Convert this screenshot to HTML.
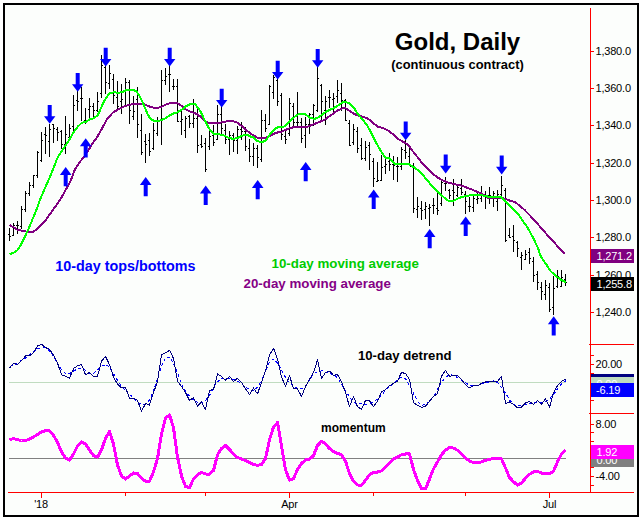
<!DOCTYPE html>
<html><head><meta charset="utf-8"><title>Gold, Daily</title>
<style>html,body{margin:0;padding:0;background:#fff;}body{width:642px;height:520px;overflow:hidden;}svg{display:block;}text{font-family:"Liberation Sans",sans-serif;}.ax{font-size:11px;fill:#000;letter-spacing:-0.2px;}.bx{font-size:11px;fill:#fff;letter-spacing:-0.2px;}.b{font-weight:bold;}</style></head><body>
<svg width="642" height="520" viewBox="0 0 642 520">
<rect x="0" y="0" width="642" height="520" fill="#ffffff"/>
<rect x="4" y="4" width="634" height="512" fill="#fcfefc" stroke="#000" stroke-width="2" shape-rendering="crispEdges"/>
<g shape-rendering="crispEdges">
<rect x="9" y="382" width="557" height="1" fill="#c0dcc0"/>
<rect x="9" y="458" width="557" height="1" fill="#808080"/>
</g>
<g fill="#000" shape-rendering="crispEdges">
<rect x="9" y="228" width="1" height="13"/>
<rect x="8" y="234" width="1" height="1"/>
<rect x="10" y="236" width="1" height="1"/>
<rect x="13" y="223" width="1" height="13"/>
<rect x="12" y="235" width="1" height="1"/>
<rect x="14" y="225" width="1" height="1"/>
<rect x="17" y="221" width="1" height="13"/>
<rect x="16" y="225" width="1" height="1"/>
<rect x="18" y="225" width="1" height="1"/>
<rect x="21" y="206" width="1" height="23"/>
<rect x="20" y="226" width="1" height="1"/>
<rect x="22" y="209" width="1" height="1"/>
<rect x="25" y="191" width="1" height="21"/>
<rect x="24" y="209" width="1" height="1"/>
<rect x="26" y="193" width="1" height="1"/>
<rect x="29" y="182" width="1" height="14"/>
<rect x="28" y="193" width="1" height="1"/>
<rect x="30" y="185" width="1" height="1"/>
<rect x="33" y="175" width="1" height="13"/>
<rect x="32" y="185" width="1" height="1"/>
<rect x="34" y="175" width="1" height="1"/>
<rect x="37" y="151" width="1" height="27"/>
<rect x="36" y="175" width="1" height="1"/>
<rect x="38" y="152" width="1" height="1"/>
<rect x="41" y="132" width="1" height="30"/>
<rect x="40" y="160" width="1" height="1"/>
<rect x="42" y="140" width="1" height="1"/>
<rect x="45" y="127" width="1" height="27"/>
<rect x="44" y="134" width="1" height="1"/>
<rect x="46" y="135" width="1" height="1"/>
<rect x="49" y="124" width="1" height="33"/>
<rect x="48" y="141" width="1" height="1"/>
<rect x="50" y="129" width="1" height="1"/>
<rect x="53" y="124" width="1" height="19"/>
<rect x="52" y="124" width="1" height="1"/>
<rect x="54" y="128" width="1" height="1"/>
<rect x="57" y="127" width="1" height="14"/>
<rect x="56" y="129" width="1" height="1"/>
<rect x="58" y="132" width="1" height="1"/>
<rect x="61" y="130" width="1" height="19"/>
<rect x="60" y="131" width="1" height="1"/>
<rect x="62" y="144" width="1" height="1"/>
<rect x="65" y="116" width="1" height="38"/>
<rect x="64" y="144" width="1" height="1"/>
<rect x="66" y="134" width="1" height="1"/>
<rect x="69" y="124" width="1" height="15"/>
<rect x="68" y="137" width="1" height="1"/>
<rect x="70" y="128" width="1" height="1"/>
<rect x="73" y="95" width="1" height="36"/>
<rect x="72" y="126" width="1" height="1"/>
<rect x="74" y="105" width="1" height="1"/>
<rect x="77" y="91" width="1" height="20"/>
<rect x="76" y="100" width="1" height="1"/>
<rect x="78" y="101" width="1" height="1"/>
<rect x="81" y="87" width="1" height="34"/>
<rect x="80" y="98" width="1" height="1"/>
<rect x="82" y="98" width="1" height="1"/>
<rect x="85" y="108" width="1" height="16"/>
<rect x="84" y="120" width="1" height="1"/>
<rect x="86" y="120" width="1" height="1"/>
<rect x="89" y="98" width="1" height="20"/>
<rect x="88" y="109" width="1" height="1"/>
<rect x="90" y="106" width="1" height="1"/>
<rect x="93" y="103" width="1" height="14"/>
<rect x="92" y="106" width="1" height="1"/>
<rect x="94" y="110" width="1" height="1"/>
<rect x="97" y="92" width="1" height="20"/>
<rect x="96" y="110" width="1" height="1"/>
<rect x="98" y="101" width="1" height="1"/>
<rect x="101" y="55" width="1" height="43"/>
<rect x="100" y="93" width="1" height="1"/>
<rect x="102" y="65" width="1" height="1"/>
<rect x="105" y="65" width="1" height="29"/>
<rect x="104" y="67" width="1" height="1"/>
<rect x="106" y="82" width="1" height="1"/>
<rect x="109" y="65" width="1" height="24"/>
<rect x="108" y="83" width="1" height="1"/>
<rect x="110" y="73" width="1" height="1"/>
<rect x="113" y="74" width="1" height="30"/>
<rect x="112" y="79" width="1" height="1"/>
<rect x="114" y="95" width="1" height="1"/>
<rect x="117" y="81" width="1" height="28"/>
<rect x="116" y="97" width="1" height="1"/>
<rect x="118" y="106" width="1" height="1"/>
<rect x="121" y="84" width="1" height="30"/>
<rect x="120" y="101" width="1" height="1"/>
<rect x="122" y="99" width="1" height="1"/>
<rect x="125" y="78" width="1" height="27"/>
<rect x="124" y="90" width="1" height="1"/>
<rect x="126" y="82" width="1" height="1"/>
<rect x="129" y="80" width="1" height="44"/>
<rect x="128" y="82" width="1" height="1"/>
<rect x="130" y="110" width="1" height="1"/>
<rect x="133" y="96" width="1" height="24"/>
<rect x="132" y="116" width="1" height="1"/>
<rect x="134" y="111" width="1" height="1"/>
<rect x="137" y="87" width="1" height="51"/>
<rect x="136" y="99" width="1" height="1"/>
<rect x="138" y="124" width="1" height="1"/>
<rect x="141" y="114" width="1" height="41"/>
<rect x="140" y="130" width="1" height="1"/>
<rect x="142" y="152" width="1" height="1"/>
<rect x="145" y="134" width="1" height="29"/>
<rect x="144" y="141" width="1" height="1"/>
<rect x="146" y="144" width="1" height="1"/>
<rect x="149" y="133" width="1" height="23"/>
<rect x="148" y="140" width="1" height="1"/>
<rect x="150" y="151" width="1" height="1"/>
<rect x="153" y="123" width="1" height="27"/>
<rect x="152" y="148" width="1" height="1"/>
<rect x="154" y="130" width="1" height="1"/>
<rect x="157" y="117" width="1" height="19"/>
<rect x="156" y="133" width="1" height="1"/>
<rect x="158" y="120" width="1" height="1"/>
<rect x="161" y="70" width="1" height="75"/>
<rect x="160" y="120" width="1" height="1"/>
<rect x="162" y="80" width="1" height="1"/>
<rect x="165" y="68" width="1" height="17"/>
<rect x="164" y="80" width="1" height="1"/>
<rect x="166" y="76" width="1" height="1"/>
<rect x="169" y="65" width="1" height="27"/>
<rect x="168" y="74" width="1" height="1"/>
<rect x="170" y="74" width="1" height="1"/>
<rect x="173" y="79" width="1" height="11"/>
<rect x="172" y="86" width="1" height="1"/>
<rect x="174" y="86" width="1" height="1"/>
<rect x="177" y="79" width="1" height="43"/>
<rect x="176" y="86" width="1" height="1"/>
<rect x="178" y="121" width="1" height="1"/>
<rect x="181" y="111" width="1" height="24"/>
<rect x="180" y="121" width="1" height="1"/>
<rect x="182" y="119" width="1" height="1"/>
<rect x="185" y="116" width="1" height="22"/>
<rect x="184" y="130" width="1" height="1"/>
<rect x="186" y="118" width="1" height="1"/>
<rect x="189" y="115" width="1" height="13"/>
<rect x="188" y="116" width="1" height="1"/>
<rect x="190" y="123" width="1" height="1"/>
<rect x="193" y="99" width="1" height="29"/>
<rect x="192" y="123" width="1" height="1"/>
<rect x="194" y="118" width="1" height="1"/>
<rect x="197" y="108" width="1" height="45"/>
<rect x="196" y="118" width="1" height="1"/>
<rect x="198" y="145" width="1" height="1"/>
<rect x="201" y="135" width="1" height="13"/>
<rect x="200" y="144" width="1" height="1"/>
<rect x="202" y="146" width="1" height="1"/>
<rect x="205" y="138" width="1" height="34"/>
<rect x="204" y="143" width="1" height="1"/>
<rect x="206" y="169" width="1" height="1"/>
<rect x="209" y="130" width="1" height="20"/>
<rect x="208" y="146" width="1" height="1"/>
<rect x="210" y="136" width="1" height="1"/>
<rect x="213" y="125" width="1" height="21"/>
<rect x="212" y="135" width="1" height="1"/>
<rect x="214" y="142" width="1" height="1"/>
<rect x="217" y="105" width="1" height="35"/>
<rect x="216" y="139" width="1" height="1"/>
<rect x="218" y="114" width="1" height="1"/>
<rect x="221" y="106" width="1" height="28"/>
<rect x="220" y="114" width="1" height="1"/>
<rect x="222" y="128" width="1" height="1"/>
<rect x="225" y="124" width="1" height="20"/>
<rect x="224" y="130" width="1" height="1"/>
<rect x="226" y="139" width="1" height="1"/>
<rect x="229" y="131" width="1" height="24"/>
<rect x="228" y="139" width="1" height="1"/>
<rect x="230" y="135" width="1" height="1"/>
<rect x="233" y="133" width="1" height="19"/>
<rect x="232" y="135" width="1" height="1"/>
<rect x="234" y="140" width="1" height="1"/>
<rect x="237" y="126" width="1" height="28"/>
<rect x="236" y="140" width="1" height="1"/>
<rect x="238" y="129" width="1" height="1"/>
<rect x="241" y="122" width="1" height="18"/>
<rect x="240" y="129" width="1" height="1"/>
<rect x="242" y="131" width="1" height="1"/>
<rect x="245" y="127" width="1" height="24"/>
<rect x="244" y="131" width="1" height="1"/>
<rect x="246" y="146" width="1" height="1"/>
<rect x="249" y="139" width="1" height="23"/>
<rect x="248" y="148" width="1" height="1"/>
<rect x="250" y="156" width="1" height="1"/>
<rect x="253" y="143" width="1" height="23"/>
<rect x="252" y="156" width="1" height="1"/>
<rect x="254" y="148" width="1" height="1"/>
<rect x="257" y="145" width="1" height="23"/>
<rect x="256" y="148" width="1" height="1"/>
<rect x="258" y="157" width="1" height="1"/>
<rect x="261" y="110" width="1" height="52"/>
<rect x="260" y="159" width="1" height="1"/>
<rect x="262" y="120" width="1" height="1"/>
<rect x="265" y="114" width="1" height="18"/>
<rect x="264" y="120" width="1" height="1"/>
<rect x="266" y="128" width="1" height="1"/>
<rect x="269" y="85" width="1" height="40"/>
<rect x="268" y="124" width="1" height="1"/>
<rect x="270" y="86" width="1" height="1"/>
<rect x="273" y="75" width="1" height="24"/>
<rect x="272" y="92" width="1" height="1"/>
<rect x="274" y="77" width="1" height="1"/>
<rect x="277" y="78" width="1" height="28"/>
<rect x="276" y="80" width="1" height="1"/>
<rect x="278" y="101" width="1" height="1"/>
<rect x="281" y="93" width="1" height="47"/>
<rect x="280" y="95" width="1" height="1"/>
<rect x="282" y="134" width="1" height="1"/>
<rect x="285" y="131" width="1" height="13"/>
<rect x="284" y="136" width="1" height="1"/>
<rect x="286" y="139" width="1" height="1"/>
<rect x="289" y="98" width="1" height="38"/>
<rect x="288" y="133" width="1" height="1"/>
<rect x="290" y="103" width="1" height="1"/>
<rect x="293" y="103" width="1" height="24"/>
<rect x="292" y="106" width="1" height="1"/>
<rect x="294" y="122" width="1" height="1"/>
<rect x="297" y="92" width="1" height="34"/>
<rect x="296" y="122" width="1" height="1"/>
<rect x="298" y="122" width="1" height="1"/>
<rect x="301" y="118" width="1" height="25"/>
<rect x="300" y="122" width="1" height="1"/>
<rect x="302" y="138" width="1" height="1"/>
<rect x="305" y="117" width="1" height="31"/>
<rect x="304" y="135" width="1" height="1"/>
<rect x="306" y="124" width="1" height="1"/>
<rect x="309" y="113" width="1" height="21"/>
<rect x="308" y="124" width="1" height="1"/>
<rect x="310" y="114" width="1" height="1"/>
<rect x="313" y="104" width="1" height="22"/>
<rect x="312" y="114" width="1" height="1"/>
<rect x="314" y="105" width="1" height="1"/>
<rect x="317" y="67" width="1" height="45"/>
<rect x="316" y="110" width="1" height="1"/>
<rect x="318" y="78" width="1" height="1"/>
<rect x="321" y="84" width="1" height="36"/>
<rect x="320" y="85" width="1" height="1"/>
<rect x="322" y="101" width="1" height="1"/>
<rect x="325" y="96" width="1" height="29"/>
<rect x="324" y="110" width="1" height="1"/>
<rect x="326" y="101" width="1" height="1"/>
<rect x="329" y="90" width="1" height="18"/>
<rect x="328" y="97" width="1" height="1"/>
<rect x="330" y="97" width="1" height="1"/>
<rect x="333" y="93" width="1" height="21"/>
<rect x="332" y="99" width="1" height="1"/>
<rect x="334" y="98" width="1" height="1"/>
<rect x="337" y="80" width="1" height="23"/>
<rect x="336" y="96" width="1" height="1"/>
<rect x="338" y="90" width="1" height="1"/>
<rect x="341" y="83" width="1" height="28"/>
<rect x="340" y="93" width="1" height="1"/>
<rect x="342" y="100" width="1" height="1"/>
<rect x="345" y="99" width="1" height="22"/>
<rect x="344" y="100" width="1" height="1"/>
<rect x="346" y="120" width="1" height="1"/>
<rect x="349" y="120" width="1" height="26"/>
<rect x="348" y="123" width="1" height="1"/>
<rect x="350" y="145" width="1" height="1"/>
<rect x="353" y="124" width="1" height="21"/>
<rect x="352" y="142" width="1" height="1"/>
<rect x="354" y="129" width="1" height="1"/>
<rect x="357" y="127" width="1" height="26"/>
<rect x="356" y="131" width="1" height="1"/>
<rect x="358" y="148" width="1" height="1"/>
<rect x="361" y="138" width="1" height="22"/>
<rect x="360" y="145" width="1" height="1"/>
<rect x="362" y="158" width="1" height="1"/>
<rect x="365" y="141" width="1" height="20"/>
<rect x="364" y="158" width="1" height="1"/>
<rect x="366" y="147" width="1" height="1"/>
<rect x="369" y="142" width="1" height="28"/>
<rect x="368" y="145" width="1" height="1"/>
<rect x="370" y="154" width="1" height="1"/>
<rect x="373" y="158" width="1" height="29"/>
<rect x="372" y="161" width="1" height="1"/>
<rect x="374" y="178" width="1" height="1"/>
<rect x="377" y="162" width="1" height="20"/>
<rect x="376" y="181" width="1" height="1"/>
<rect x="378" y="180" width="1" height="1"/>
<rect x="381" y="155" width="1" height="26"/>
<rect x="380" y="180" width="1" height="1"/>
<rect x="382" y="167" width="1" height="1"/>
<rect x="385" y="158" width="1" height="16"/>
<rect x="384" y="166" width="1" height="1"/>
<rect x="386" y="164" width="1" height="1"/>
<rect x="389" y="153" width="1" height="18"/>
<rect x="388" y="161" width="1" height="1"/>
<rect x="390" y="164" width="1" height="1"/>
<rect x="393" y="156" width="1" height="24"/>
<rect x="392" y="164" width="1" height="1"/>
<rect x="394" y="165" width="1" height="1"/>
<rect x="397" y="157" width="1" height="25"/>
<rect x="396" y="166" width="1" height="1"/>
<rect x="398" y="166" width="1" height="1"/>
<rect x="401" y="147" width="1" height="23"/>
<rect x="400" y="166" width="1" height="1"/>
<rect x="402" y="149" width="1" height="1"/>
<rect x="405" y="140" width="1" height="19"/>
<rect x="404" y="150" width="1" height="1"/>
<rect x="406" y="152" width="1" height="1"/>
<rect x="409" y="146" width="1" height="20"/>
<rect x="408" y="156" width="1" height="1"/>
<rect x="410" y="166" width="1" height="1"/>
<rect x="413" y="163" width="1" height="50"/>
<rect x="412" y="165" width="1" height="1"/>
<rect x="414" y="208" width="1" height="1"/>
<rect x="417" y="197" width="1" height="21"/>
<rect x="416" y="209" width="1" height="1"/>
<rect x="418" y="206" width="1" height="1"/>
<rect x="421" y="201" width="1" height="19"/>
<rect x="420" y="208" width="1" height="1"/>
<rect x="422" y="210" width="1" height="1"/>
<rect x="425" y="202" width="1" height="17"/>
<rect x="424" y="209" width="1" height="1"/>
<rect x="426" y="206" width="1" height="1"/>
<rect x="429" y="204" width="1" height="22"/>
<rect x="428" y="208" width="1" height="1"/>
<rect x="430" y="207" width="1" height="1"/>
<rect x="433" y="198" width="1" height="16"/>
<rect x="432" y="205" width="1" height="1"/>
<rect x="434" y="205" width="1" height="1"/>
<rect x="437" y="192" width="1" height="23"/>
<rect x="436" y="208" width="1" height="1"/>
<rect x="438" y="210" width="1" height="1"/>
<rect x="441" y="180" width="1" height="26"/>
<rect x="440" y="203" width="1" height="1"/>
<rect x="442" y="182" width="1" height="1"/>
<rect x="445" y="177" width="1" height="14"/>
<rect x="444" y="183" width="1" height="1"/>
<rect x="446" y="183" width="1" height="1"/>
<rect x="449" y="189" width="1" height="10"/>
<rect x="448" y="190" width="1" height="1"/>
<rect x="450" y="195" width="1" height="1"/>
<rect x="453" y="179" width="1" height="27"/>
<rect x="452" y="190" width="1" height="1"/>
<rect x="454" y="192" width="1" height="1"/>
<rect x="457" y="186" width="1" height="11"/>
<rect x="456" y="195" width="1" height="1"/>
<rect x="458" y="187" width="1" height="1"/>
<rect x="461" y="179" width="1" height="16"/>
<rect x="460" y="188" width="1" height="1"/>
<rect x="462" y="192" width="1" height="1"/>
<rect x="465" y="191" width="1" height="23"/>
<rect x="464" y="194" width="1" height="1"/>
<rect x="466" y="201" width="1" height="1"/>
<rect x="469" y="197" width="1" height="15"/>
<rect x="468" y="206" width="1" height="1"/>
<rect x="470" y="206" width="1" height="1"/>
<rect x="473" y="196" width="1" height="16"/>
<rect x="472" y="207" width="1" height="1"/>
<rect x="474" y="198" width="1" height="1"/>
<rect x="477" y="192" width="1" height="12"/>
<rect x="476" y="199" width="1" height="1"/>
<rect x="478" y="198" width="1" height="1"/>
<rect x="481" y="186" width="1" height="16"/>
<rect x="480" y="198" width="1" height="1"/>
<rect x="482" y="194" width="1" height="1"/>
<rect x="485" y="191" width="1" height="18"/>
<rect x="484" y="195" width="1" height="1"/>
<rect x="486" y="195" width="1" height="1"/>
<rect x="489" y="187" width="1" height="17"/>
<rect x="488" y="195" width="1" height="1"/>
<rect x="490" y="195" width="1" height="1"/>
<rect x="493" y="191" width="1" height="16"/>
<rect x="492" y="197" width="1" height="1"/>
<rect x="494" y="193" width="1" height="1"/>
<rect x="497" y="190" width="1" height="21"/>
<rect x="496" y="201" width="1" height="1"/>
<rect x="498" y="194" width="1" height="1"/>
<rect x="501" y="176" width="1" height="20"/>
<rect x="500" y="194" width="1" height="1"/>
<rect x="502" y="185" width="1" height="1"/>
<rect x="505" y="188" width="1" height="54"/>
<rect x="504" y="190" width="1" height="1"/>
<rect x="506" y="240" width="1" height="1"/>
<rect x="509" y="228" width="1" height="10"/>
<rect x="508" y="235" width="1" height="1"/>
<rect x="510" y="237" width="1" height="1"/>
<rect x="513" y="225" width="1" height="27"/>
<rect x="512" y="236" width="1" height="1"/>
<rect x="514" y="240" width="1" height="1"/>
<rect x="517" y="241" width="1" height="16"/>
<rect x="516" y="242" width="1" height="1"/>
<rect x="518" y="248" width="1" height="1"/>
<rect x="521" y="252" width="1" height="18"/>
<rect x="520" y="257" width="1" height="1"/>
<rect x="522" y="255" width="1" height="1"/>
<rect x="525" y="250" width="1" height="10"/>
<rect x="524" y="259" width="1" height="1"/>
<rect x="526" y="254" width="1" height="1"/>
<rect x="529" y="248" width="1" height="16"/>
<rect x="528" y="252" width="1" height="1"/>
<rect x="530" y="258" width="1" height="1"/>
<rect x="533" y="257" width="1" height="25"/>
<rect x="532" y="261" width="1" height="1"/>
<rect x="534" y="275" width="1" height="1"/>
<rect x="537" y="271" width="1" height="19"/>
<rect x="536" y="274" width="1" height="1"/>
<rect x="538" y="282" width="1" height="1"/>
<rect x="541" y="282" width="1" height="18"/>
<rect x="540" y="287" width="1" height="1"/>
<rect x="542" y="291" width="1" height="1"/>
<rect x="545" y="280" width="1" height="20"/>
<rect x="544" y="294" width="1" height="1"/>
<rect x="546" y="285" width="1" height="1"/>
<rect x="549" y="283" width="1" height="29"/>
<rect x="548" y="287" width="1" height="1"/>
<rect x="550" y="309" width="1" height="1"/>
<rect x="553" y="276" width="1" height="39"/>
<rect x="552" y="307" width="1" height="1"/>
<rect x="554" y="288" width="1" height="1"/>
<rect x="557" y="270" width="1" height="18"/>
<rect x="556" y="286" width="1" height="1"/>
<rect x="558" y="276" width="1" height="1"/>
<rect x="561" y="270" width="1" height="17"/>
<rect x="560" y="286" width="1" height="1"/>
<rect x="562" y="277" width="1" height="1"/>
<rect x="565" y="274" width="1" height="12"/>
<rect x="564" y="279" width="1" height="1"/>
<rect x="566" y="282" width="1" height="1"/>
</g>
<polyline points="9.5,224.8 13.3,227.2 17.2,229.5 21.1,230.6 25.0,231.4 28.9,231.9 32.8,231.9 36.7,229.5 40.6,225.2 44.5,221.7 48.4,216.3 52.3,210.8 56.2,205.4 60.1,199.9 64.0,192.9 67.9,185.9 70.4,181.3 75.1,169.1 79.8,162.0 83.8,157.0 87.7,151.3 92.5,143.6 97.3,136.8 102.1,128.2 106.9,119.5 111.7,113.8 113.5,112.0 118.8,109.2 123.6,106.7 128.4,105.0 133.2,104.0 139.0,103.6 144.0,104.0 148.7,106.2 153.3,107.7 158.0,108.0 162.7,106.2 167.4,103.9 172.0,102.8 176.7,102.8 181.4,105.8 186.1,109.5 190.7,111.8 195.4,113.3 200.1,116.4 204.7,121.1 209.4,123.0 214.1,123.4 218.8,123.0 223.4,122.1 228.1,121.1 232.8,121.1 237.5,122.6 242.1,126.4 246.8,130.5 251.5,134.2 254.0,135.7 257.8,138.1 265.5,138.1 270.3,135.7 276.1,132.8 281.9,131.6 287.7,128.9 293.4,127.2 302.1,127.5 307.8,126.7 314.0,124.1 319.4,122.0 324.1,120.1 328.8,116.7 333.4,113.4 338.1,110.2 342.8,108.3 345.6,108.3 349.3,110.7 354.0,113.9 358.7,115.8 363.3,116.9 368.3,118.8 373.3,123.1 378.0,126.8 382.7,127.8 387.4,130.2 392.0,133.4 396.7,138.0 401.4,140.8 406.1,143.6 409.3,146.2 411.7,150.0 414.0,152.6 420.1,160.5 424.7,166.1 429.4,170.7 434.1,175.0 438.8,178.2 443.4,180.7 448.1,182.5 452.8,183.8 457.5,184.8 462.1,185.7 466.8,187.6 471.5,189.4 476.1,191.4 480.8,193.2 484.0,195.0 488.0,197.9 492.7,198.0 497.4,198.0 501.1,197.6 505.8,199.1 510.4,200.9 515.1,202.1 519.8,205.8 524.5,209.9 529.1,214.6 533.8,219.6 538.5,224.9 543.2,230.1 547.8,235.7 552.5,240.7 557.2,245.8 561.9,250.7 565.0,253.8" fill="none" stroke="#800080" stroke-width="2" stroke-linejoin="round" shape-rendering="crispEdges"/>
<polyline points="9.5,254.1 13.3,252.9 17.2,250.5 21.1,244.3 25.0,236.5 28.9,228.0 32.8,218.6 36.7,209.0 40.6,198.4 44.5,189.0 48.4,180.5 52.7,170.0 57.8,157.0 63.6,148.4 69.4,139.7 73.2,133.0 77.6,126.8 81.9,122.6 85.7,122.2 89.6,119.5 93.4,118.4 97.3,115.7 100.2,110.0 102.5,104.3 106.3,97.6 109.7,93.0 114.0,92.4 118.8,92.7 122.7,92.0 126.5,89.8 132.3,89.6 136.1,91.2 139.0,95.1 141.9,100.8 144.8,107.6 147.7,114.3 150.5,118.8 154.4,121.2 158.2,121.2 162.1,119.6 165.9,118.2 169.8,115.3 174.0,113.3 176.7,112.7 181.4,109.9 186.1,106.2 190.7,103.9 195.4,104.3 200.1,110.8 204.7,120.2 209.4,129.0 214.1,134.2 218.8,134.2 223.4,135.1 228.1,137.6 232.8,138.9 237.5,137.9 242.1,135.7 246.8,134.8 251.5,137.0 254.0,137.6 256.9,141.2 260.8,141.8 264.6,141.4 267.5,138.1 271.3,132.3 275.2,128.5 279.0,126.7 284.8,126.5 287.7,123.7 292.5,118.8 297.3,114.6 300.7,113.9 305.4,114.3 310.1,117.7 314.7,119.0 319.4,116.7 324.1,113.0 328.8,110.2 333.4,108.3 338.1,105.5 342.8,102.1 345.6,101.8 349.3,103.5 354.0,107.5 357.3,113.5 362.1,118.8 366.9,125.0 370.7,131.7 374.0,138.5 376.1,142.8 380.0,149.5 383.8,155.3 386.2,158.2 389.1,158.0 392.0,161.1 394.4,163.5 400.2,164.0 408.8,163.8 411.7,165.9 414.0,167.3 420.1,171.7 424.7,177.3 429.4,182.9 434.1,188.5 438.8,193.2 443.4,196.9 448.1,200.7 452.8,201.0 457.5,198.8 462.1,196.9 466.8,196.0 471.5,195.0 476.1,194.5 480.8,194.7 484.0,195.8 488.0,196.6 492.7,196.6 497.4,196.6 501.1,197.0 505.8,201.5 510.4,206.2 514.8,210.5 518.8,215.0 522.7,221.0 526.5,226.0 530.3,232.4 534.2,240.0 538.0,247.9 540.0,254.4 541.9,258.3 546.2,264.2 550.5,271.0 555.3,275.5 560.2,279.3 565.9,282.4" fill="none" stroke="#00ff00" stroke-width="2" stroke-linejoin="round" shape-rendering="crispEdges"/>
<g fill="#0000ff">
<polygon points="47.7,105.0 51.7,105.0 51.7,116.2 55.4,116.2 49.7,123.8 44.0,116.2 47.7,116.2"/>
<polygon points="75.7,73.0 79.7,73.0 79.7,84.2 83.4,84.2 77.7,91.8 72.0,84.2 75.7,84.2"/>
<polygon points="103.7,47.7 107.7,47.7 107.7,58.9 111.4,58.9 105.7,66.5 100.0,58.9 103.7,58.9"/>
<polygon points="167.7,47.7 171.7,47.7 171.7,58.9 175.4,58.9 169.7,66.5 164.0,58.9 167.7,58.9"/>
<polygon points="219.7,88.7 223.7,88.7 223.7,99.9 227.4,99.9 221.7,107.5 216.0,99.9 219.7,99.9"/>
<polygon points="275.7,60.8 279.7,60.8 279.7,72.0 283.4,72.0 277.7,79.6 272.0,72.0 275.7,72.0"/>
<polygon points="315.7,49.0 319.7,49.0 319.7,60.2 323.4,60.2 317.7,67.8 312.0,60.2 315.7,60.2"/>
<polygon points="403.7,121.5 407.7,121.5 407.7,132.7 411.4,132.7 405.7,140.3 400.0,132.7 403.7,132.7"/>
<polygon points="443.7,154.6 447.7,154.6 447.7,165.8 451.4,165.8 445.7,173.4 440.0,165.8 443.7,165.8"/>
<polygon points="499.7,155.6 503.7,155.6 503.7,166.8 507.4,166.8 501.7,174.4 496.0,166.8 499.7,166.8"/>
<polygon points="65.7,166.9 71.5,174.9 67.7,174.9 67.7,186.2 63.7,186.2 63.7,174.9 59.9,174.9"/>
<polygon points="85.7,138.2 91.5,146.2 87.7,146.2 87.7,157.5 83.7,157.5 83.7,146.2 79.9,146.2"/>
<polygon points="145.7,176.9 151.5,184.9 147.7,184.9 147.7,196.2 143.7,196.2 143.7,184.9 139.9,184.9"/>
<polygon points="205.7,185.6 211.5,193.6 207.7,193.6 207.7,204.9 203.7,204.9 203.7,193.6 199.9,193.6"/>
<polygon points="257.7,179.9 263.5,187.9 259.7,187.9 259.7,199.2 255.7,199.2 255.7,187.9 251.9,187.9"/>
<polygon points="305.7,161.9 311.5,169.9 307.7,169.9 307.7,181.2 303.7,181.2 303.7,169.9 299.9,169.9"/>
<polygon points="373.7,189.6 379.5,197.6 375.7,197.6 375.7,208.9 371.7,208.9 371.7,197.6 367.9,197.6"/>
<polygon points="429.7,229.0 435.5,237.0 431.7,237.0 431.7,248.3 427.7,248.3 427.7,237.0 423.9,237.0"/>
<polygon points="465.7,216.6 471.5,224.6 467.7,224.6 467.7,235.9 463.7,235.9 463.7,224.6 459.9,224.6"/>
<polygon points="553.7,316.3 559.5,324.3 555.7,324.3 555.7,335.6 551.7,335.6 551.7,324.3 547.9,324.3"/>
</g>
<polyline points="10.0,366.4 14.0,365.0 18.0,362.6 22.0,360.1 26.0,357.7 30.0,354.4 34.0,351.1 38.0,348.7 42.0,347.2 46.0,347.9 50.0,351.4 54.0,357.1 58.0,363.9 62.0,370.2 66.0,373.8 70.0,373.3 74.0,370.7 78.0,368.8 82.0,368.8 86.0,370.6 90.0,373.4 94.0,373.2 98.0,369.5 102.0,366.1 106.0,364.7 110.0,367.7 114.0,374.5 118.0,381.3 122.0,386.8 126.0,391.1 130.0,394.4 134.0,399.0 138.0,402.6 142.0,404.2 146.0,404.1 150.0,399.4 154.0,389.6 158.0,376.9 162.0,365.1 166.0,356.9 170.0,357.3 174.0,364.8 178.0,374.3 182.0,384.9 186.0,392.2 190.0,396.7 194.0,400.4 198.0,402.8 202.0,403.0 206.0,400.0 210.0,394.4 214.0,386.7 218.0,381.3 222.0,378.4 226.0,377.7 230.0,378.9 234.0,379.4 238.0,381.2 242.0,384.4 246.0,387.2 250.0,389.9 254.0,390.5 258.0,386.8 262.0,379.7 266.0,369.9 270.0,361.2 274.0,359.1 278.0,363.8 282.0,371.1 286.0,378.2 290.0,383.4 294.0,386.1 298.0,388.7 302.0,388.9 306.0,385.7 310.0,379.1 314.0,373.6 318.0,371.7 322.0,370.7 326.0,372.4 330.0,373.8 334.0,374.5 338.0,378.4 342.0,385.0 346.0,391.6 350.0,397.5 354.0,402.7 358.0,404.1 362.0,403.8 366.0,404.3 370.0,403.3 374.0,401.2 378.0,398.7 382.0,394.7 386.0,389.9 390.0,386.3 394.0,382.8 398.0,379.1 402.0,377.1 406.0,379.3 410.0,386.1 414.0,394.4 418.0,402.0 422.0,405.2 426.0,403.9 430.0,401.1 434.0,395.6 438.0,388.0 442.0,381.7 446.0,376.9 450.0,374.6 454.0,375.6 458.0,377.8 462.0,380.4 466.0,383.2 470.0,385.3 474.0,385.9 478.0,385.0 482.0,383.7 486.0,382.6 490.0,381.8 494.0,380.9 498.0,383.0 502.0,388.3 506.0,393.7 510.0,400.5 514.0,404.9 518.0,405.4 522.0,405.2 526.0,404.4 530.0,403.1 534.0,402.5 538.0,402.3 542.0,402.3 546.0,401.7 550.0,398.4 554.0,393.9 558.0,388.2 562.0,383.1 566.0,380.7" fill="none" stroke="#0000ff" stroke-width="1" stroke-linejoin="round" stroke-dasharray="3,2.5" shape-rendering="crispEdges"/>
<polyline points="9.5,368.0 13.5,363.3 17.5,364.3 21.5,360.7 25.5,356.0 29.5,355.6 33.5,352.9 37.5,345.9 41.5,344.3 45.5,347.5 49.5,349.3 53.5,355.2 57.5,363.0 61.5,374.7 65.5,376.3 69.5,378.3 73.5,368.5 77.5,365.8 81.5,364.3 85.5,374.7 89.5,372.4 93.5,376.3 97.5,376.3 101.5,361.1 105.5,356.5 109.5,364.6 113.5,377.0 117.5,384.0 121.5,388.0 125.5,387.6 129.5,398.0 133.5,398.0 137.5,400.4 141.5,411.3 145.5,403.5 149.5,405.0 153.5,392.6 157.5,381.7 161.5,354.5 165.5,352.9 169.5,350.3 173.5,358.4 177.5,381.0 181.5,386.4 185.5,392.6 189.5,400.4 193.5,397.6 197.5,406.3 201.5,402.0 205.5,409.8 209.5,390.3 213.5,389.5 217.5,374.0 221.5,376.3 225.5,380.2 229.5,376.3 233.5,381.7 237.5,378.3 241.5,382.5 245.5,388.7 249.5,394.5 253.5,388.0 257.5,393.9 261.5,382.5 265.5,370.8 269.5,355.2 273.5,348.2 277.5,359.1 281.5,377.0 285.5,386.4 289.5,375.5 293.5,388.7 297.5,388.7 301.5,396.5 305.5,386.4 309.5,379.4 313.5,372.4 317.5,360.0 321.5,378.6 325.5,372.4 329.5,371.1 333.5,375.2 337.5,374.7 341.5,381.7 345.5,392.6 349.5,406.7 353.5,396.5 357.5,406.7 361.5,409.5 365.5,400.4 369.5,400.7 373.5,406.7 377.5,401.2 381.5,391.9 385.5,389.5 389.5,385.8 393.5,383.3 397.5,381.0 401.5,372.4 405.5,373.6 409.5,379.4 413.5,402.8 417.5,405.1 421.5,407.4 425.5,406.3 429.5,401.2 433.5,396.5 437.5,393.4 441.5,376.3 445.5,370.5 449.5,376.3 453.5,375.5 457.5,375.8 461.5,379.4 465.5,384.8 469.5,388.0 473.5,385.6 477.5,386.0 481.5,383.3 485.5,382.0 489.5,381.4 493.5,381.4 497.5,381.7 501.5,376.3 505.5,403.5 509.5,402.0 513.5,404.3 517.5,407.9 521.5,407.0 525.5,402.8 529.5,401.7 533.5,404.3 537.5,400.4 541.5,404.3 545.5,398.6 549.5,407.4 553.5,392.6 557.5,385.6 561.5,381.4 565.5,379.4" fill="none" stroke="#000080" stroke-width="1" stroke-linejoin="round" shape-rendering="crispEdges"/>
<polyline points="9.5,439.7 13.5,438.5 17.5,439.7 21.5,440.5 25.5,440.5 29.5,439.0 33.5,436.9 37.5,434.6 41.5,432.0 45.5,430.7 49.5,431.0 53.5,435.4 57.5,442.4 61.5,451.7 65.5,458.0 69.5,460.0 73.5,454.0 77.5,446.0 81.5,441.9 85.5,443.9 89.5,450.2 93.5,455.6 97.5,457.2 101.5,449.8 105.5,438.5 109.5,431.5 113.5,444.0 117.5,465.0 121.5,475.9 125.5,479.0 129.5,476.2 133.5,473.0 137.5,473.5 141.5,478.2 145.5,481.3 149.5,481.3 153.5,472.0 157.5,458.7 161.5,433.8 165.5,418.2 169.5,414.8 173.5,427.6 177.5,457.2 181.5,475.9 185.5,486.5 189.5,487.5 193.5,479.0 197.5,474.7 201.5,472.4 205.5,474.0 209.5,474.3 213.5,470.4 217.5,454.8 221.5,448.6 225.5,445.5 229.5,449.4 233.5,454.0 237.5,457.5 241.5,459.0 245.5,460.6 249.5,462.6 253.5,464.6 257.5,465.3 261.5,464.6 265.5,458.7 269.5,440.0 273.5,426.8 277.5,422.6 281.5,445.5 285.5,469.6 289.5,480.2 293.5,478.6 297.5,469.6 301.5,463.4 305.5,460.0 309.5,459.2 313.5,455.6 317.5,445.5 321.5,441.3 325.5,443.9 329.5,448.6 333.5,451.7 337.5,453.3 341.5,454.8 345.5,461.0 349.5,473.5 353.5,481.3 357.5,485.0 361.5,485.2 365.5,480.2 369.5,475.1 373.5,472.0 377.5,472.0 381.5,470.9 385.5,467.3 389.5,463.0 393.5,459.2 397.5,456.9 401.5,454.8 405.5,454.0 409.5,453.7 413.5,469.6 417.5,480.5 421.5,488.6 425.5,489.0 429.5,479.0 433.5,468.9 437.5,461.8 441.5,454.8 445.5,450.2 449.5,447.5 453.5,448.1 457.5,450.2 461.5,453.7 465.5,458.0 469.5,461.0 473.5,462.6 477.5,463.0 481.5,461.8 485.5,460.4 489.5,459.5 493.5,458.4 497.5,458.4 501.5,458.7 505.5,468.0 509.5,477.4 513.5,481.8 517.5,485.0 521.5,482.9 525.5,478.2 529.5,474.3 533.5,472.0 537.5,471.5 541.5,473.0 545.5,473.5 549.5,474.0 553.5,471.2 557.5,461.8 561.5,454.0 565.5,450.2" fill="none" stroke="#ff00ff" stroke-width="3" stroke-linejoin="round" shape-rendering="crispEdges"/>
<g fill="#ff0000" shape-rendering="crispEdges">
<rect x="590" y="8" width="1" height="485"/>
<rect x="8" y="492" width="626" height="1"/>
<rect x="589" y="344" width="45" height="1"/>
<rect x="589" y="413" width="45" height="1"/>
<rect x="591" y="51" width="3" height="1"/>
<rect x="591" y="88" width="3" height="1"/>
<rect x="591" y="125" width="3" height="1"/>
<rect x="591" y="163" width="3" height="1"/>
<rect x="591" y="200" width="3" height="1"/>
<rect x="591" y="237" width="3" height="1"/>
<rect x="591" y="275" width="3" height="1"/>
<rect x="591" y="312" width="3" height="1"/>
<rect x="591" y="355" width="3" height="1"/>
<rect x="591" y="364" width="3" height="1"/>
<rect x="591" y="373" width="3" height="1"/>
<rect x="591" y="382" width="3" height="1"/>
<rect x="591" y="391" width="3" height="1"/>
<rect x="591" y="400" width="3" height="1"/>
<rect x="591" y="424" width="3" height="1"/>
<rect x="591" y="432" width="3" height="1"/>
<rect x="591" y="441" width="3" height="1"/>
<rect x="591" y="450" width="3" height="1"/>
<rect x="591" y="458" width="3" height="1"/>
<rect x="591" y="467" width="3" height="1"/>
<rect x="591" y="476" width="3" height="1"/>
<rect x="591" y="485" width="3" height="1"/>
<rect x="41" y="493" width="1" height="5"/>
<rect x="125" y="493" width="1" height="3"/>
<rect x="205" y="493" width="1" height="3"/>
<rect x="289" y="493" width="1" height="5"/>
<rect x="373" y="493" width="1" height="3"/>
<rect x="465" y="493" width="1" height="3"/>
<rect x="549" y="493" width="1" height="5"/>
</g>
<text class="ax" x="595.5" y="54.7">1,380.0</text>
<text class="ax" x="595.5" y="91.7">1,360.0</text>
<text class="ax" x="595.5" y="128.7">1,340.0</text>
<text class="ax" x="595.5" y="166.7">1,320.0</text>
<text class="ax" x="595.5" y="203.7">1,300.0</text>
<text class="ax" x="595.5" y="240.7">1,280.0</text>
<text class="ax" x="595.5" y="278.7">1,260.0</text>
<text class="ax" x="595.5" y="315.7">1,240.0</text>
<text class="ax" x="595.5" y="367.7">20.00</text>
<text class="ax" x="595.5" y="427.7">8.00</text>
<text class="ax" x="595.5" y="479.7">-4.00</text>
<text class="ax" x="41" y="507.5" text-anchor="middle">'18</text>
<text class="ax" x="289.5" y="507.5" text-anchor="middle">Apr</text>
<text class="ax" x="549.5" y="507.5" text-anchor="middle">Jul</text>
<g shape-rendering="crispEdges">
<rect x="591" y="249" width="43" height="14" fill="#800080"/>
<rect x="591" y="277" width="43" height="14" fill="#000"/>
<rect x="591" y="374" width="43" height="14" fill="#000080"/>
<rect x="591" y="377" width="43" height="14" fill="#c0dcc0"/>
</g>
<text class="bx" x="596.5" y="259.7">1,271.2</text>
<text class="bx" x="596.5" y="287.7">1,255.8</text>
<text class="bx" x="596.5" y="387.5">0.00</text>
<rect x="591" y="383" width="43" height="14" fill="#0000ff" shape-rendering="crispEdges"/>
<text class="bx" x="596" y="393.7">-6.19</text>
<rect x="591" y="453" width="43" height="14" fill="#808080" shape-rendering="crispEdges"/>
<text class="bx" x="596.5" y="463.7">0.00</text>
<rect x="591" y="445" width="43" height="14" fill="#ff00ff" shape-rendering="crispEdges"/>
<text class="bx" x="596.5" y="455.7">1.92</text>
<text class="b" x="457.5" y="50" text-anchor="middle" font-size="24" fill="#000">Gold, Daily</text>
<text class="b" x="457.5" y="68.5" text-anchor="middle" font-size="12.9" fill="#000">(continuous contract)</text>
<text class="b" x="55.3" y="270.8" font-size="14.35" fill="#0000ff">10-day tops/bottoms</text>
<text class="b" x="271.5" y="268" font-size="13.33" fill="#00cc00">10-day moving average</text>
<text class="b" x="243.5" y="288" font-size="13.33" fill="#850085">20-day moving average</text>
<text class="b" x="358" y="359.5" font-size="13.15" fill="#000">10-day detrend</text>
<text class="b" x="321" y="432" font-size="12" fill="#000">momentum</text>
</svg></body></html>
